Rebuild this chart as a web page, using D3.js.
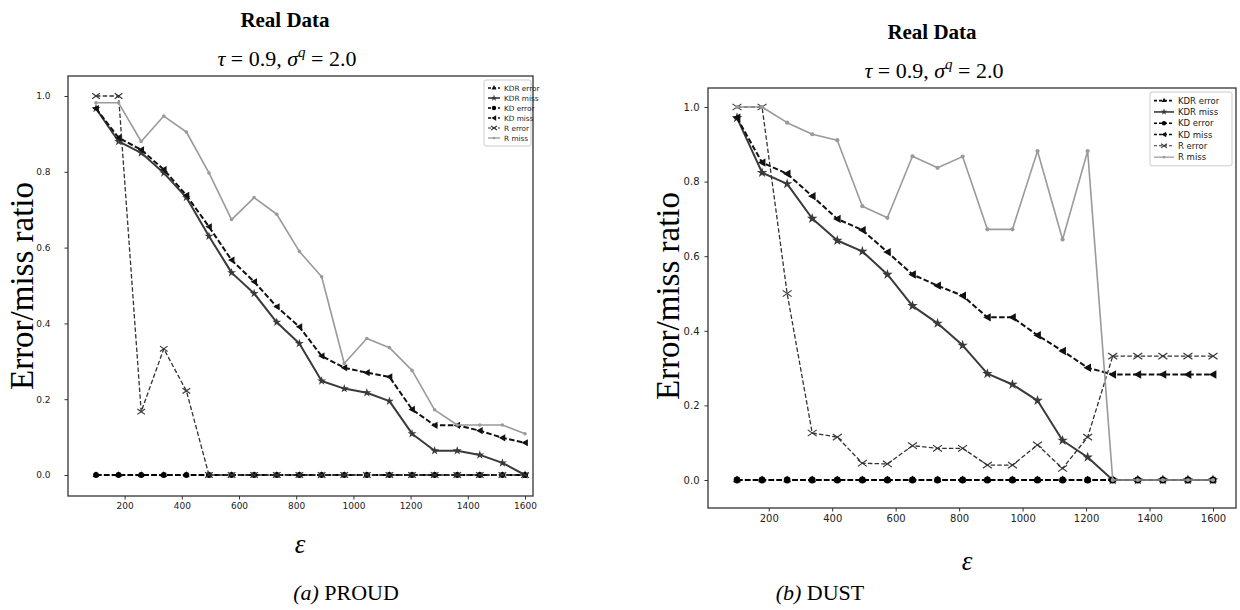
<!DOCTYPE html>
<html>
<head>
<meta charset="utf-8">
<script src="https://cdn.jsdelivr.net/npm/d3@7"></script>
<style>
  html, body { margin: 0; padding: 0; background: #fff; }
  svg { display: block; }
</style>
</head>
<body>
<svg id="chart" width="1240" height="610"></svg>
<script>
// ---------------- data ----------------
const epsilon = [100, 179, 258, 337, 416, 495, 574, 653, 732, 811, 889, 968, 1047, 1126, 1205, 1284, 1363, 1442, 1521, 1600];
const xTicks = [200, 400, 600, 800, 1000, 1200, 1400, 1600];
const yTicks = [0.0, 0.2, 0.4, 0.6, 0.8, 1.0];
const seriesNames = ["KDR error", "KDR miss", "KD error", "KD miss", "R error", "R miss"];

// (a) PROUD
const proudKdrError = [0, 0, 0, 0, 0, 0, 0, 0, 0, 0, 0, 0, 0, 0, 0, 0, 0, 0, 0, 0];
const proudKdrMiss = [0.967, 0.88, 0.85, 0.797, 0.732, 0.63, 0.534, 0.479, 0.403, 0.347, 0.248, 0.228, 0.217, 0.195, 0.109, 0.064, 0.064, 0.053, 0.032, 0.0];
const proudKdError = [0, 0, 0, 0, 0, 0, 0, 0, 0, 0, 0, 0, 0, 0, 0, 0, 0, 0, 0, 0];
const proudKdMiss = [0.967, 0.89, 0.858, 0.806, 0.738, 0.655, 0.567, 0.51, 0.444, 0.391, 0.314, 0.283, 0.27, 0.259, 0.173, 0.131, 0.131, 0.117, 0.098, 0.085];
const proudRError = [1.0, 1.0, 0.167, 0.333, 0.222, 0, 0, 0, 0, 0, 0, 0, 0, 0, 0, 0, 0, 0, 0, 0];
const proudRMiss = [0.982, 0.982, 0.88, 0.947, 0.905, 0.797, 0.674, 0.732, 0.688, 0.59, 0.523, 0.294, 0.36, 0.336, 0.276, 0.172, 0.132, 0.132, 0.132, 0.109];

// (b) DUST
const dustKdrError = [0, 0, 0, 0, 0, 0, 0, 0, 0, 0, 0, 0, 0, 0, 0, 0, 0, 0, 0, 0];
const dustKdrMiss = [0.971, 0.824, 0.794, 0.701, 0.642, 0.613, 0.551, 0.467, 0.42, 0.361, 0.285, 0.256, 0.213, 0.106, 0.061, 0, 0, 0, 0, 0];
const dustKdError = [0, 0, 0, 0, 0, 0, 0, 0, 0, 0, 0, 0, 0, 0, 0, 0, 0, 0, 0, 0];
const dustKdMiss = [0.971, 0.851, 0.821, 0.761, 0.70, 0.67, 0.611, 0.551, 0.521, 0.494, 0.436, 0.436, 0.388, 0.346, 0.301, 0.283, 0.283, 0.283, 0.283, 0.283];
const dustRError = [1.0, 1.0, 0.5, 0.126, 0.115, 0.045, 0.043, 0.092, 0.085, 0.085, 0.04, 0.04, 0.094, 0.031, 0.115, 0.332, 0.332, 0.332, 0.332, 0.332];
const dustRMiss = [1.0, 1.0, 0.958, 0.927, 0.911, 0.734, 0.703, 0.868, 0.837, 0.867, 0.672, 0.672, 0.882, 0.645, 0.882, 0, 0, 0, 0, 0];

// ---------------- styles ----------------
const styles = {
  "KDR error": { color: "#111", width: 2, dash: "5.5,2.4", marker: "triangle", size: 26 },
  "KDR miss":  { color: "#3a3a3a", width: 2, dash: null, marker: "star", size: 34 },
  "KD error":  { color: "#000", width: 2, dash: "5.5,2.4", marker: "circle", size: 36 },
  "KD miss":   { color: "#111", width: 2, dash: "5.5,2.4", marker: "left", size: 4.2 },
  "R error":   { color: "#333", width: 1.3, dash: "4.5,2.2", marker: "x", size: 4.5 },
  "R miss":    { color: "#9a9a9a", width: 1.6, dash: null, marker: "dot", size: 2.1 }
};

const svg = d3.select("#chart");
svg.append("rect").attr("width", 1240).attr("height", 610).attr("fill", "#fff");

function drawMarker(g, type, x, y, st, k) {
  const f = k || 1;
  if (type === "x") {
    const s = st.size * f;
    g.append("path").attr("d", `M${x - s},${y - s * 0.7}L${x + s},${y + s * 0.7}M${x - s},${y + s * 0.7}L${x + s},${y - s * 0.7}`)
      .attr("stroke", st.color).attr("stroke-width", 1.1).attr("fill", "none");
  } else if (type === "dot") {
    g.append("circle").attr("cx", x).attr("cy", y).attr("r", st.size * f).attr("fill", st.color);
  } else if (type === "left") {
    const s = st.size * f;
    g.append("path").attr("d", `M${x - s},${y}L${x + s * 0.8},${y - s}L${x + s * 0.8},${y + s}Z`).attr("fill", st.color);
  } else {
    const sym = { triangle: d3.symbolTriangle, star: d3.symbolStar, circle: d3.symbolCircle }[type];
    g.append("path").attr("transform", `translate(${x},${y})`)
      .attr("d", d3.symbol().type(sym).size(st.size * f * f)()).attr("fill", st.color);
  }
}

function drawPanel(p) {
  const x = d3.scaleLinear().domain([100, 1600]).range([p.x100, p.x1600]);
  const y = d3.scaleLinear().domain([0, 1]).range([p.y0, p.y1]);
  const g = svg.append("g");

  // titles
  g.append("text").attr("x", p.titleX).attr("y", p.titleY).attr("text-anchor", "middle")
    .attr("font-family", "Liberation Serif, Times New Roman, serif").attr("font-weight", "bold")
    .attr("font-size", 21).attr("fill", "#000").text("Real Data");
  const sub = g.append("text").attr("x", p.titleX + 2).attr("y", p.subY).attr("text-anchor", "middle")
    .attr("font-family", "Liberation Serif, Times New Roman, serif").attr("font-size", 22).attr("fill", "#000")
    .attr("xml:space", "preserve");
  sub.append("tspan").attr("font-style", "italic").text("τ");
  sub.append("tspan").text(" = 0.9, ");
  sub.append("tspan").attr("font-style", "italic").text("σ");
  sub.append("tspan").attr("font-style", "italic").attr("font-size", 15).attr("dy", -9).text("q");
  sub.append("tspan").attr("dy", 9).text(" = 2.0");

  // axes
  const xAxis = d3.axisBottom(x).tickValues(xTicks).tickSize(3.5).tickPadding(3).tickFormat(d3.format("d"));
  const yAxis = d3.axisLeft(y).tickValues(yTicks).tickSize(3.5).tickPadding(p.yPad).tickFormat(d3.format(".1f"));
  const gx = g.append("g").attr("transform", `translate(0,${p.bottom})`).call(xAxis);
  const gy = g.append("g").attr("transform", `translate(${p.left},0)`).call(yAxis);
  [gx, gy].forEach(a => {
    a.select(".domain").remove();
    a.selectAll("line").attr("stroke", "#333");
    a.selectAll("text").attr("font-family", "DejaVu Sans, sans-serif").attr("font-size", p.tickFont).attr("fill", "#222");
  });

  // frame
  g.append("rect").attr("x", p.left).attr("y", p.top).attr("width", p.right - p.left).attr("height", p.bottom - p.top)
    .attr("fill", "none").attr("stroke", "#333").attr("stroke-width", 1.3);

  // axis labels
  g.append("text").attr("transform", `translate(${p.ylabX},${p.ylabY}) rotate(-90)`)
    .attr("text-anchor", "middle").attr("dominant-baseline", "central")
    .attr("font-family", "Liberation Serif, Times New Roman, serif").attr("font-size", 33).attr("fill", "#000")
    .text("Error/miss ratio");
  g.append("text").attr("x", p.epsX).attr("y", p.epsY).attr("text-anchor", "middle")
    .attr("font-family", "Liberation Serif, Times New Roman, serif").attr("font-style", "italic")
    .attr("font-size", 27).attr("fill", "#000").text("ε");

  // caption
  const cap = g.append("text").attr("x", p.capX).attr("y", p.capY).attr("text-anchor", "middle")
    .attr("font-family", "Liberation Serif, Times New Roman, serif").attr("font-size", 22).attr("fill", "#000")
    .attr("xml:space", "preserve");
  cap.append("tspan").attr("font-style", "italic").text(p.capLetter);
  cap.append("tspan").text(" " + p.capName);

  // series
  const line = d3.line().x((d, i) => x(epsilon[i])).y(d => y(d));
  p.series.forEach((vals, k) => {
    const st = styles[seriesNames[k]];
    g.append("path").datum(vals).attr("d", line).attr("fill", "none")
      .attr("stroke", st.color).attr("stroke-width", st.width)
      .attr("stroke-dasharray", st.dash).attr("stroke-linejoin", "round");
    vals.forEach((v, i) => drawMarker(g, st.marker, x(epsilon[i]), y(v), st, p.mk));
  });

  // legend
  const lg = g.append("g").attr("transform", `translate(${p.legX},${p.legY})`);
  const rowH = p.legRow;
  lg.append("rect").attr("x", 0).attr("y", 0).attr("width", p.legW).attr("height", rowH * 6 + 6)
    .attr("fill", "#fff").attr("stroke", "#ccc").attr("stroke-width", 1).attr("rx", 2);
  seriesNames.forEach((name, k) => {
    const st = styles[name];
    const yy = 3 + rowH / 2 + k * rowH;
    lg.append("line").attr("x1", 4).attr("x2", 4 + p.legSample).attr("y1", yy).attr("y2", yy)
      .attr("stroke", st.color).attr("stroke-width", st.width * 0.8).attr("stroke-dasharray", st.dash ? "3,2" : null);
    drawMarker(lg, st.marker, 4 + p.legSample / 2, yy, st, 0.65);
    lg.append("text").attr("x", 8 + p.legSample).attr("y", yy).attr("dominant-baseline", "central")
      .attr("font-family", "DejaVu Sans, sans-serif").attr("font-size", p.legFont).attr("fill", "#222").text(name);
  });
}

drawPanel({
  left: 68, right: 533, top: 76, bottom: 496,
  x100: 96, x1600: 525, y0: 475, y1: 96, yPad: 14, tickFont: 9, mk: 0.85,
  titleX: 285, titleY: 27, subY: 66, ylabX: 22, ylabY: 286, epsX: 300, epsY: 553,
  capX: 346, capY: 600, capLetter: "(a)", capName: "PROUD",
  legX: 484, legY: 80, legW: 47, legRow: 10, legSample: 12, legFont: 7.3,
  series: [proudKdrError, proudKdrMiss, proudKdError, proudKdMiss, proudRError, proudRMiss]
});
drawPanel({
  left: 708, right: 1236, top: 88, bottom: 508,
  x100: 737, x1600: 1213, y0: 480, y1: 107, yPad: 5, tickFont: 10, mk: 1,
  titleX: 932, titleY: 39, subY: 78, ylabX: 668, ylabY: 296, epsX: 967, epsY: 570,
  capX: 820, capY: 600, capLetter: "(b)", capName: "DUST",
  legX: 1150, legY: 92, legW: 82, legRow: 11.3, legSample: 20, legFont: 8.5,
  series: [dustKdrError, dustKdrMiss, dustKdError, dustKdMiss, dustRError, dustRMiss]
});
</script>
</body>
</html>
